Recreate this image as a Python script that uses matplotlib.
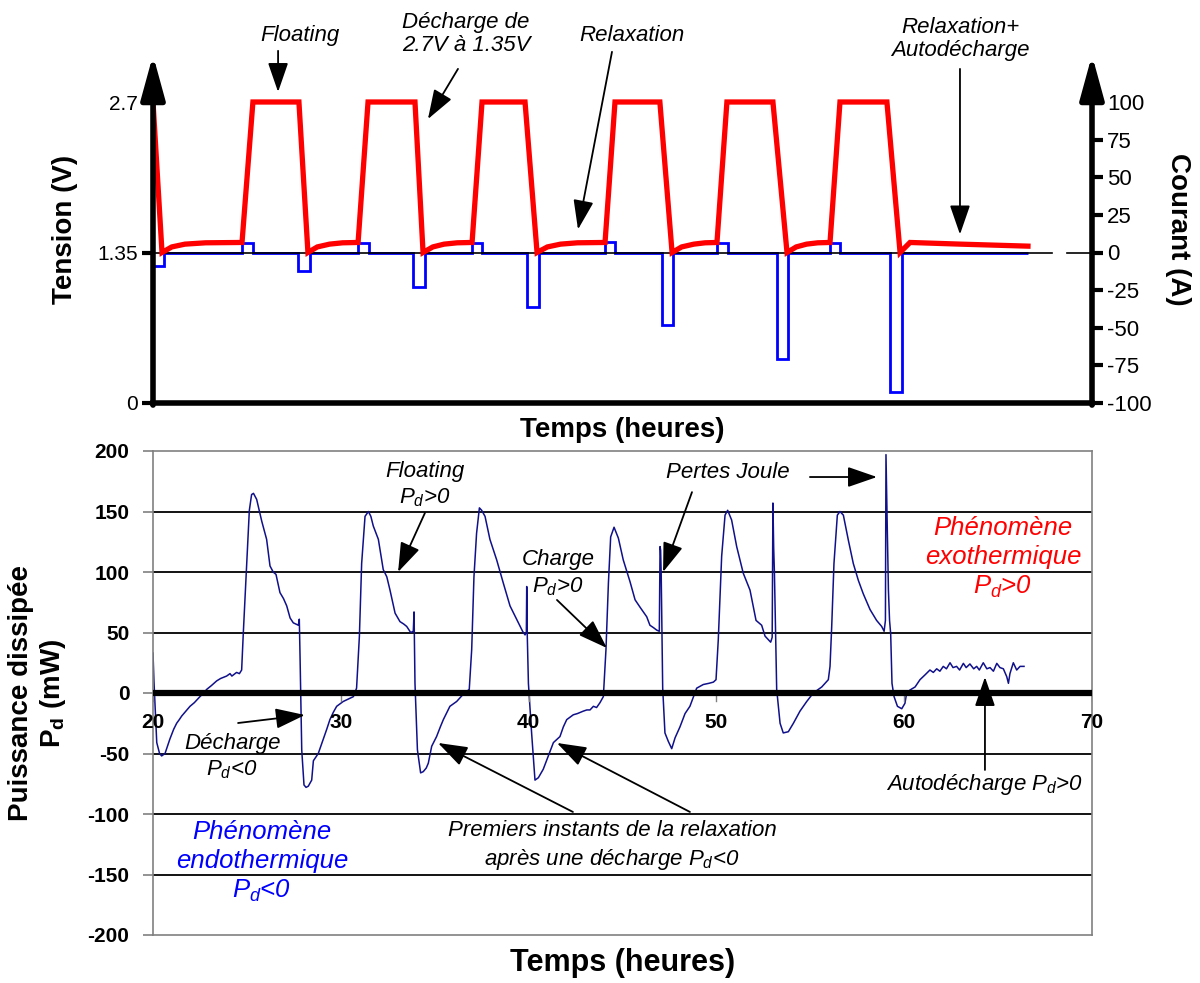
import matplotlib
matplotlib.use("Agg")
import matplotlib.pyplot as plt

plt.rcParams['font.family'] = ['Liberation Sans', 'DejaVu Sans']
plt.rcParams['mathtext.fontset'] = 'custom'
plt.rcParams['mathtext.rm'] = 'Liberation Sans'
plt.rcParams['mathtext.it'] = 'Liberation Sans:italic'
plt.rcParams['mathtext.bf'] = 'Liberation Sans:bold'

# ---------------- data: top schematic ----------------
volt_time = [20.0, 20.48, 21.0, 21.7, 22.8, 24.74, 25.32, 27.77, 28.25, 28.75, 29.4, 30.1, 30.92,
             31.45, 33.95, 34.38, 34.9, 35.5, 36.2, 36.99, 37.52, 39.81, 40.45, 41.0, 41.7, 42.6,
             44.07, 44.6, 46.99, 47.64, 48.15, 48.8, 49.4, 50.03, 50.56, 53.01, 53.76, 54.25, 54.8,
             55.4, 56.05, 56.58, 59.08, 59.78, 60.31, 63.0, 66.59]
volt_value = [2.7, 1.35, 1.40, 1.425, 1.437, 1.44, 2.7, 2.7, 1.35, 1.40, 1.425, 1.437, 1.44,
              2.7, 2.7, 1.35, 1.40, 1.425, 1.437, 1.44, 2.7, 2.7, 1.35, 1.40, 1.425, 1.437,
              1.44, 2.7, 2.7, 1.35, 1.40, 1.425, 1.437, 1.44, 2.7, 2.7, 1.35, 1.40, 1.425,
              1.437, 1.44, 2.7, 2.7, 1.35, 1.44, 1.425, 1.407]

current_edges = [20.0, 20.59, 24.74, 25.32, 27.72, 28.36, 30.92, 31.5, 33.84, 34.48, 36.99, 37.52,
                 39.91, 40.55, 44.07, 44.6, 47.1, 47.69, 50.03, 50.62, 53.23, 53.81, 56.05, 56.58,
                 59.24, 59.88, 66.59]
current_value = [-9, 0, 6, 0, -12, 0, 6, 0, -23, 0, 6, 0, -36, 0, 7, 0, -48, 0, 6, 0, -71, 0, 6, 0,
                 -93, 0]

volt_ticks = [0, 1.35, 2.7]
volt_ticklabels = ['0', '1.35', '2.7']
current_ticks = [-100, -75, -50, -25, 0, 25, 50, 75, 100]

# ---------------- data: measured dissipated power ----------------
pd_time = [
    20.00, 20.05, 20.2, 20.35, 20.46, 20.64, 20.9, 21.1, 21.26, 21.4, 21.53, 21.75, 21.97, 22.2,
    22.5, 22.7, 22.86, 23.1, 23.39, 23.6, 23.92, 24.1, 24.2, 24.45, 24.6, 24.72, 24.81, 24.99,
    25.13, 25.25, 25.35, 25.52, 25.79, 26.05, 26.23, 26.4, 26.55, 26.76, 26.95, 27.12, 27.3,
    27.47, 27.6, 27.74, 27.79, 27.83, 27.92, 28.04, 28.15, 28.27, 28.45, 28.54, 28.8, 29.07,
    29.25, 29.42, 29.6, 29.78, 30.13, 30.4, 30.67, 30.84, 30.99, 31.11, 31.29, 31.47, 31.6,
    31.73, 32.0, 32.26, 32.45, 32.62, 32.89, 33.15, 33.35, 33.51, 33.72, 33.86, 33.9, 33.95,
    34.08, 34.25, 34.39, 34.55, 34.66, 34.84, 35.1, 35.3, 35.46, 35.65, 35.81, 36.17, 36.52,
    36.84, 36.97, 37.09, 37.23, 37.38, 37.5, 37.68, 37.94, 38.3, 38.65, 39.01, 39.36, 39.55,
    39.68, 39.81, 39.88, 39.9, 39.93, 39.99, 40.16, 40.34, 40.52, 40.78, 41.05, 41.32, 41.67,
    41.85, 42.03, 42.38, 42.6, 42.91, 43.1, 43.27, 43.45, 43.62, 43.8, 43.98, 44.12, 44.25,
    44.37, 44.55, 44.78, 45.04, 45.4, 45.67, 45.93, 46.29, 46.46, 46.65, 46.82, 46.96, 47.0,
    47.03, 47.06, 47.14, 47.26, 47.44, 47.62, 47.8, 48.06, 48.33, 48.59, 48.95, 49.3, 49.6,
    49.84, 49.98, 50.1, 50.28, 50.46, 50.6, 50.81, 51.08, 51.43, 51.79, 52.11, 52.41, 52.59,
    52.77, 52.89, 52.97, 53.01, 53.05, 53.09, 53.21, 53.39, 53.56, 53.83, 54.1, 54.45, 54.81,
    55.16, 55.61, 55.96, 56.05, 56.14, 56.26, 56.44, 56.58, 56.76, 57.03, 57.29, 57.56, 57.82,
    58.18, 58.53, 58.8, 58.93, 59.0, 59.03, 59.07, 59.1, 59.16, 59.22, 59.28, 59.35, 59.46,
    59.64, 59.87, 60.04, 60.13, 60.31, 60.58, 60.84, 61.11, 61.37, 61.55, 61.73, 61.9, 62.08,
    62.25, 62.44, 62.6, 62.79, 62.95, 63.15, 63.3, 63.5, 63.7, 63.86, 64.0, 64.21, 64.4, 64.57,
    64.75, 64.93, 65.1, 65.28, 65.46, 65.55, 65.63, 65.81, 65.99, 66.17, 66.38]
pd_value = [
    33, 10, -41, -50, -52, -50, -38, -30, -25, -22, -19, -15, -11, -8,
    -3, 0, 3, 6, 10, 12, 14, 16, 14, 17, 16, 19, 50, 107,
    151, 164, 165, 160, 142, 127, 105, 100, 98, 83, 78, 72, 62,
    58, 57, 56, 61, 30, -47, -76, -78, -77, -72, -56, -50, -38,
    -30, -22, -16, -11, -7, -5, -3, 4, 47, 107, 146, 150, 146,
    138, 127, 102, 96, 85, 66, 59, 57, 55, 50, 51, 67, 8,
    -47, -66, -65, -62, -58, -44, -36, -28, -22, -16, -11, -7, -1,
    3, 36, 96, 132, 153, 151, 146, 127, 110, 91, 72, 61, 55,
    51, 48, 50, 88, 47, 8, -33, -72, -70, -63, -52, -41, -36,
    -28, -22, -18, -17, -15, -14, -14, -11, -12, -8, -3, 36, 91,
    129, 137, 128, 110, 92, 77, 71, 63, 56, 54, 52, 51, 121,
    118, 99, 4, -33, -40, -46, -37, -28, -17, -11, 4, 7, 8,
    9, 11, 44, 113, 147, 151, 143, 121, 99, 85, 60, 56, 47,
    44, 42, 46, 157, 120, 99, 3, -25, -33, -32, -25, -15, -7,
    0, 5, 11, 22, 55, 107, 147, 150, 147, 126, 107, 93, 82,
    69, 60, 55, 51, 60, 197, 160, 135, 85, 60, 49, 8, -3,
    -11, -13, -8.5, 0, 2.5, 5, 11, 15, 19, 17, 20, 18, 22,
    20, 25, 21, 22, 19, 24.5, 21, 24, 20, 22, 19, 25, 20, 21,
    18, 24.5, 21, 20, 13.5, 8, 16, 25, 19, 22, 22]

pd_yticks = [-200, -150, -100, -50, 0, 50, 100, 150, 200]
pd_xticks = [20, 30, 40, 50, 60, 70]

# ---------------- figure ----------------
fig = plt.figure(figsize=(12, 9.83), dpi=100)
W, H = 1200, 983

# ---- top panel ----
ax = fig.add_axes([153 / W, 1 - 403 / H, (1092 - 153) / W, (403 - 55) / H])
vtop = 2.7 * (403 - 55) / (403 - 102)
ax.set_xlim(20, 70)
ax.set_ylim(0, vtop)
ax2 = ax.twinx()
ax2.set_ylim(-100, (vtop - 1.35) * 100 / 1.35)

ax.plot([20, 67.87], [1.35, 1.35], color='black', lw=1.2, zorder=1)
ax.plot([68.67, 70], [1.35, 1.35], color='black', lw=1.2, zorder=1, clip_on=False)
ax2.stairs(current_value, current_edges, color='#0000ff', lw=2.0, baseline=None, zorder=2)
ax.plot(volt_time, volt_value, color='#ff0000', lw=3.8, zorder=3, solid_joinstyle='miter')
ax.set_zorder(ax2.get_zorder() + 1)
ax.patch.set_visible(False)

for a in (ax, ax2):
    for s in ('top', 'left', 'right'):
        a.spines[s].set_visible(False)
ax.spines['bottom'].set_linewidth(4)
ax2.spines['bottom'].set_visible(False)
ax.set_xticks([])
ax.set_yticks(volt_ticks)
ax.set_yticklabels(volt_ticklabels, fontsize=15)
ax.tick_params(axis='y', direction='out', length=8, width=3, pad=3)
ax2.set_yticks(current_ticks)
ax2.set_yticklabels([str(v) for v in current_ticks], fontsize=16)
ax2.tick_params(axis='y', direction='out', length=8, width=3, pad=3)

arrow_kw = dict(arrowstyle='-|>,head_length=0.95,head_width=0.26', lw=4, color='black',
                mutation_scale=28, shrinkA=0, shrinkB=0)
ax.annotate('', xy=(0, 1), xytext=(0, -0.006), xycoords='axes fraction', arrowprops=arrow_kw,
            annotation_clip=False)
ax.annotate('', xy=(1, 1), xytext=(1, -0.006), xycoords='axes fraction', arrowprops=arrow_kw,
            annotation_clip=False)

ax.set_ylabel('Tension (V)', fontsize=20, fontweight='bold', labelpad=14)
ax2.set_ylabel('Courant (A)', fontsize=20, fontweight='bold', rotation=270, labelpad=28)
ax.set_xlabel('Temps (heures)', fontsize=20, fontweight='bold', labelpad=10)

ann_small = dict(arrowstyle='-|>,head_length=1.3,head_width=0.45', color='black', lw=1.3,
                 mutation_scale=14, shrinkA=0, shrinkB=0)
tkw = dict(fontsize=16, fontstyle='italic', ha='center', va='center')
ax.text(27.83, 3.294, 'Floating', **tkw)
ax.annotate('', xy=(26.66, 2.79), xytext=(26.66, 3.159), arrowprops=ann_small, annotation_clip=False)
ax.text(36.67, 3.312, 'Décharge de\n2.7V à 1.35V', linespacing=1.15, **tkw)
ax.annotate('', xy=(34.64, 2.547), xytext=(36.24, 2.997), arrowprops=ann_small, annotation_clip=False)
ax.text(45.5, 3.294, 'Relaxation', **tkw)
ax.annotate('', xy=(42.63, 1.557), xytext=(44.44, 3.15), arrowprops=ann_small, annotation_clip=False)
ax.text(62.97, 3.267, 'Relaxation+\nAutodécharge', linespacing=1.15, **tkw)
ax.annotate('', xy=(62.97, 1.512), xytext=(62.97, 2.997), arrowprops=ann_small, annotation_clip=False)

# ---- bottom panel ----
bx = fig.add_axes([153 / W, 1 - 935 / H, (1092 - 153) / W, (935 - 451) / H])
bx.set_xlim(20, 70)
bx.set_ylim(-200, 200)
for v in pd_yticks:
    if v in (-200, 200, 0):
        continue
    bx.axhline(v, color='black', lw=1.3, zorder=1)
bx.axhline(0, color='black', lw=4.5, zorder=3)
for s in bx.spines.values():
    s.set_color('#808080')
    s.set_linewidth(1.2)
bx.plot(pd_time, pd_value, color='#10108a', lw=1.1, zorder=2)

bx.set_yticks(pd_yticks)
bx.set_yticklabels([str(v) for v in pd_yticks], fontsize=15, fontweight='bold')
bx.tick_params(axis='y', direction='out', length=7, width=1.2, color='#808080', pad=10)
bx.set_xticks([])
for t in pd_xticks:
    bx.text(t, -24, str(t), fontsize=15, fontweight='bold', ha='center', va='center',
            clip_on=False, zorder=4)
    bx.plot([t, t], [0, -7], color='#808080', lw=1.0, zorder=2)

bx.set_ylabel('Puissance dissipée\n$\\mathbf{P_d}$ (mW)', fontsize=20, fontweight='bold',
              labelpad=14, linespacing=1.2)
bx.set_xlabel('Temps (heures)', fontsize=22, fontweight='bold', labelpad=9)

bkw = dict(fontsize=16, fontstyle='italic', ha='center', va='center', zorder=5)
bx.text(34.48, 172, 'Floating\n$P_d$>0', linespacing=1.3, **bkw)
bx.annotate('', xy=(33.05, 100), xytext=(34.48, 148.8), arrowprops=ann_small)
bx.text(41.57, 99, 'Charge\n$P_d$>0', linespacing=1.3, **bkw)
bx.annotate('', xy=(44.17, 37.2), xytext=(41.51, 76.9), arrowprops=ann_small)
bx.text(50.62, 182.6, 'Pertes Joule', **bkw)
bx.annotate('', xy=(47.16, 100), xytext=(48.70, 166), arrowprops=ann_small)
bx.annotate('', xy=(58.55, 178.5), xytext=(54.98, 178.5), arrowprops=ann_small)
bx.text(24.21, -53, 'Décharge\n$P_d$<0', linespacing=1.3, **bkw)
bx.annotate('', xy=(28.09, -18.2), xytext=(24.53, -24.8), arrowprops=ann_small)
bx.text(44.44, -126.4, 'Premiers instants de la relaxation\naprès une décharge $P_d$<0',
        linespacing=1.35, **bkw)
bx.annotate('', xy=(35.18, -41.3), xytext=(42.36, -98.3), arrowprops=ann_small)
bx.annotate('', xy=(41.51, -41.3), xytext=(48.59, -98.3), arrowprops=ann_small)
bx.text(64.3, -76, 'Autodécharge $P_d$>0', **bkw)
bx.annotate('', xy=(64.3, 13.2), xytext=(64.3, -63.6), arrowprops=ann_small)

ekw = dict(fontsize=18.5, fontstyle='italic', ha='center', va='center', zorder=5,
           linespacing=1.25)
bx.text(65.26, 111.6, 'Phénomène\nexothermique\n$P_d$>0', color='#ff0000', **ekw)
bx.text(25.8, -139.7, 'Phénomène\nendothermique\n$P_d$<0', color='#0000ff', **ekw)

fig.savefig('out.png', dpi=100)
